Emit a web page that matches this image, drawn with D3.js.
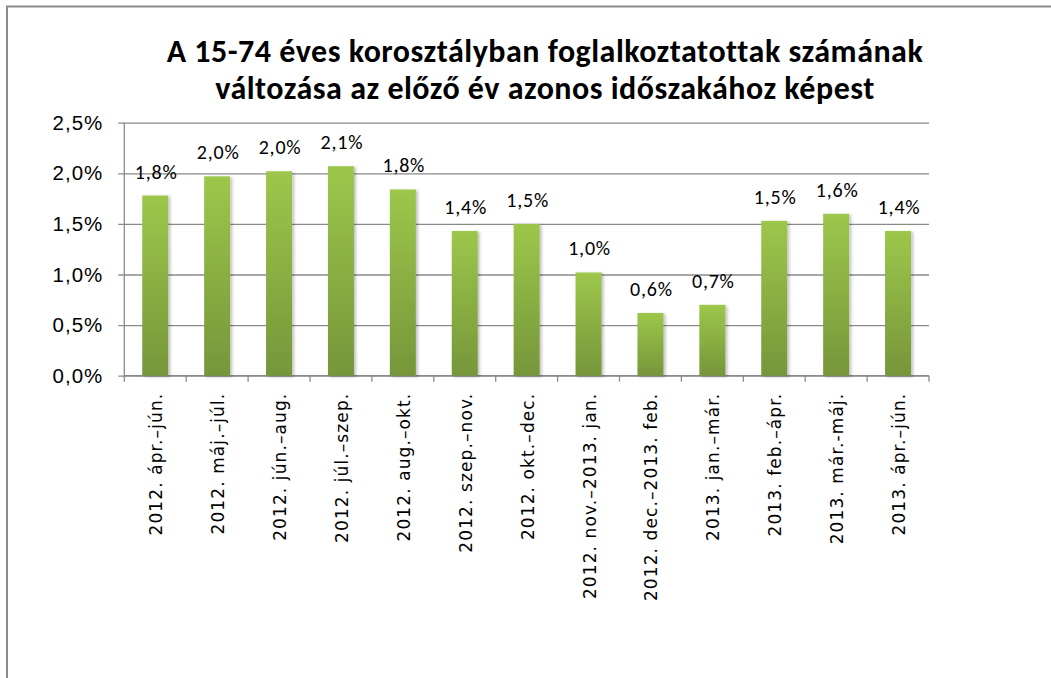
<!DOCTYPE html>
<html>
<head>
<meta charset="utf-8">
<script src="https://cdn.jsdelivr.net/npm/d3@7"></script>
<style>
  body { margin: 0; background: #fff; }
  svg { display: block; font-family: Carlito, Calibri, 'Open Sans', sans-serif; }
</style>
</head>
<body>
<div class="canvas"></div>
<script>
const categories = [
    '2012. ápr.–jún.',
    '2012. máj.–júl.',
    '2012. jún.–aug.',
    '2012. júl.–szep.',
    '2012. aug.–okt.',
    '2012. szep.–nov.',
    '2012. okt.–dec.',
    '2012. nov.–2013. jan.',
    '2012. dec.–2013. feb.',
    '2013. jan.–már.',
    '2013. feb.–ápr.',
    '2013. már.-máj.',
    '2013. ápr.–jún.'
]
const values = [1.78, 1.97, 2.02, 2.07, 1.84, 1.43, 1.50, 1.02, 0.62, 0.70, 1.53, 1.60, 1.43]
const yTicks = [0, 0.5, 1.0, 1.5, 2.0, 2.5]
const titleLines = [
    'A 15-74 éves korosztályban foglalkoztatottak számának',
    'változása az előző év azonos időszakához képest'
]

const dims = { width: 1051, height: 678 }
const margin = { top: 122.7, left: 124.3, right: 1051 - 929, bottom: 678 - 375.7 }
const plotW = dims.width - margin.left - margin.right
const plotH = dims.height - margin.top - margin.bottom

const fmt = v => v.toFixed(1).replace('.', ',') + '%'

const svg = d3.select('.canvas')
    .append('svg')
    .attr('width', dims.width)
    .attr('height', dims.height)

const defs = svg.append('defs')
const grad = defs.append('linearGradient')
    .attr('id', 'barGrad')
    .attr('x1', 0).attr('y1', 0).attr('x2', 0).attr('y2', 1)
grad.append('stop').attr('offset', '0%').attr('stop-color', '#9cc74b')
grad.append('stop').attr('offset', '100%').attr('stop-color', '#76963a')

const shadow = defs.append('filter')
    .attr('id', 'barShadow')
    .attr('x', '-20%').attr('y', '-10%').attr('width', '150%').attr('height', '130%')
shadow.append('feDropShadow')
    .attr('dx', 2).attr('dy', 1)
    .attr('stdDeviation', 1.5)
    .attr('flood-color', '#000')
    .attr('flood-opacity', 0.25)

// outer frame (goes past right and bottom edges)
svg.append('rect')
    .attr('x', 7)
    .attr('y', 6.5)
    .attr('width', 1100)
    .attr('height', 700)
    .attr('fill', 'none')
    .attr('stroke', '#8c8c8c')
    .attr('stroke-width', 2)

// title
svg.append('g')
    .selectAll('text')
    .data(titleLines)
    .enter()
    .append('text')
    .attr('x', 545)
    .attr('y', (d, i) => 62 + i * 37)
    .attr('text-anchor', 'middle')
    .attr('font-size', 32)
    .attr('font-weight', 'bold')
    .attr('letter-spacing', 0.5)
    .attr('fill', '#000')
    .text(d => d)

const graph = svg.append('g')
    .attr('transform', `translate(${margin.left}, ${margin.top})`)

const x = d3.scaleBand()
    .domain(categories)
    .range([0, plotW])
    .paddingInner(0.58)
    .paddingOuter(0.29)

const y = d3.scaleLinear()
    .domain([0, 2.5])
    .range([plotH, 0])

// gridlines + y axis
const yAxis = d3.axisLeft(y)
    .tickValues(yTicks)
    .tickSize(-plotW)
    .tickFormat(fmt)

const yG = graph.append('g').call(yAxis)
yG.select('.domain').remove()
yG.selectAll('.tick line')
    .attr('x1', -6)
    .attr('stroke', '#8a8a8a')
    .attr('stroke-width', 1.3)
yG.selectAll('.tick text')
    .attr('x', -21)
    .attr('font-size', 20.5)
    .attr('letter-spacing', 1)
    .attr('font-family', null)
    .attr('fill', '#000')

// vertical axis line
graph.append('line')
    .attr('x1', 0).attr('x2', 0)
    .attr('y1', 0).attr('y2', plotH)
    .attr('stroke', '#8a8a8a')
    .attr('stroke-width', 1.3)

// x axis with ticks between categories
const step = x.step()
const boundaries = d3.range(categories.length + 1)
const xG = graph.append('g').attr('transform', `translate(0, ${plotH})`)
xG.append('line')
    .attr('x1', 0).attr('x2', plotW)
    .attr('stroke', '#8a8a8a')
    .attr('stroke-width', 1.3)
xG.selectAll('line.tk')
    .data(boundaries)
    .enter()
    .append('line')
    .attr('class', 'tk')
    .attr('x1', i => i * step).attr('x2', i => i * step)
    .attr('y1', 0).attr('y2', 6)
    .attr('stroke', '#8a8a8a')
    .attr('stroke-width', 1.3)

xG.selectAll('text')
    .data(categories)
    .enter()
    .append('text')
    .attr('transform', d => `translate(${x(d) + x.bandwidth() / 2 + 1}, 17) rotate(-90)`)
    .attr('text-anchor', 'end')
    .attr('dy', '0.35em')
    .attr('font-family', "'DejaVu Sans', sans-serif")
    .attr('font-size', 17)
    .attr('letter-spacing', 1.1)
    .attr('fill', '#000')
    .text(d => d)

// bars
const data = categories.map((c, i) => ({ name: c, value: values[i] }))

graph.selectAll('rect.bar')
    .data(data)
    .enter()
    .append('rect')
    .attr('class', 'bar')
    .attr('x', d => x(d.name))
    .attr('y', d => y(d.value))
    .attr('width', x.bandwidth())
    .attr('height', d => plotH - y(d.value))
    .attr('fill', 'url(#barGrad)')
    .attr('filter', 'url(#barShadow)')

// data labels
graph.selectAll('text.lbl')
    .data(data)
    .enter()
    .append('text')
    .attr('class', 'lbl')
    .attr('x', d => x(d.name) + x.bandwidth() / 2 + 1)
    .attr('y', d => y(d.value) - 17)
    .attr('text-anchor', 'middle')
    .attr('font-size', 20)
    .attr('letter-spacing', 0.8)
    .attr('fill', '#000')
    .text(d => fmt(d.value))
</script>
</body>
</html>
